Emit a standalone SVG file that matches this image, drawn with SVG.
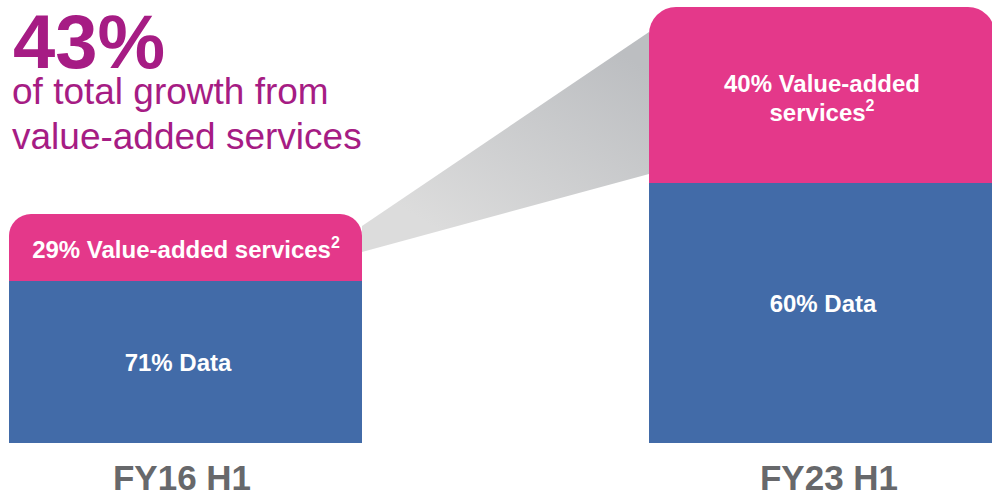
<svg xmlns="http://www.w3.org/2000/svg" width="992" height="494" viewBox="0 0 992 494">
<defs>
<linearGradient id="g" gradientUnits="userSpaceOnUse" x1="600" y1="40" x2="470" y2="250">
<stop offset="0" stop-color="#bcbec1"/>
<stop offset="1" stop-color="#dcdcdc"/>
</linearGradient>
</defs>
<style>
.pink{fill:#e4388a}
.blue{fill:#426ba8}
.lbl{font-family:"Liberation Sans",Arial,sans-serif;font-weight:bold;font-size:24px;fill:#ffffff;text-anchor:middle}
.sup{font-size:16px}
.ax{font-family:"Liberation Sans",Arial,sans-serif;font-weight:bold;font-size:35px;fill:#67686b;text-anchor:middle}
.hd{font-family:"Liberation Sans",Arial,sans-serif;fill:#a61c84}
</style>
<g id="headline">
<text class="hd" x="13" y="68" font-size="76" font-weight="bold">43%</text>
<text class="hd" x="12" y="104" font-size="37">of total growth from</text>
<text class="hd" x="12" y="149" font-size="37">value-added services</text>
</g>
<g id="connectors">
<polygon points="362,226 649,32 649,174 362,252" fill="url(#g)"/>
</g>
<g id="fy16">
<path class="pink" d="M9,281 V236 A22,22 0 0 1 31,214 H340 A22,22 0 0 1 362,236 V281 Z"/>
<rect class="blue" x="9" y="281" width="353" height="162"/>
<text class="lbl" x="186" y="258">29% Value-added services<tspan class="sup" dy="-10">2</tspan></text>
<text class="lbl" x="178" y="371">71% Data</text>
<text class="ax" x="182" y="490">FY16 H1</text>
</g>
<g id="fy23">
<path class="pink" d="M649,183 V34 A27,27 0 0 1 676,7 H968 A27,27 0 0 1 995,34 V183 Z"/>
<rect class="blue" x="649" y="183" width="346" height="260"/>
<text class="lbl" x="822" y="92">40% Value-added</text>
<text class="lbl" x="822" y="121">services<tspan class="sup" dy="-10">2</tspan></text>
<text class="lbl" x="823" y="312">60% Data</text>
<text class="ax" x="829" y="490">FY23 H1</text>
</g>
</svg>
